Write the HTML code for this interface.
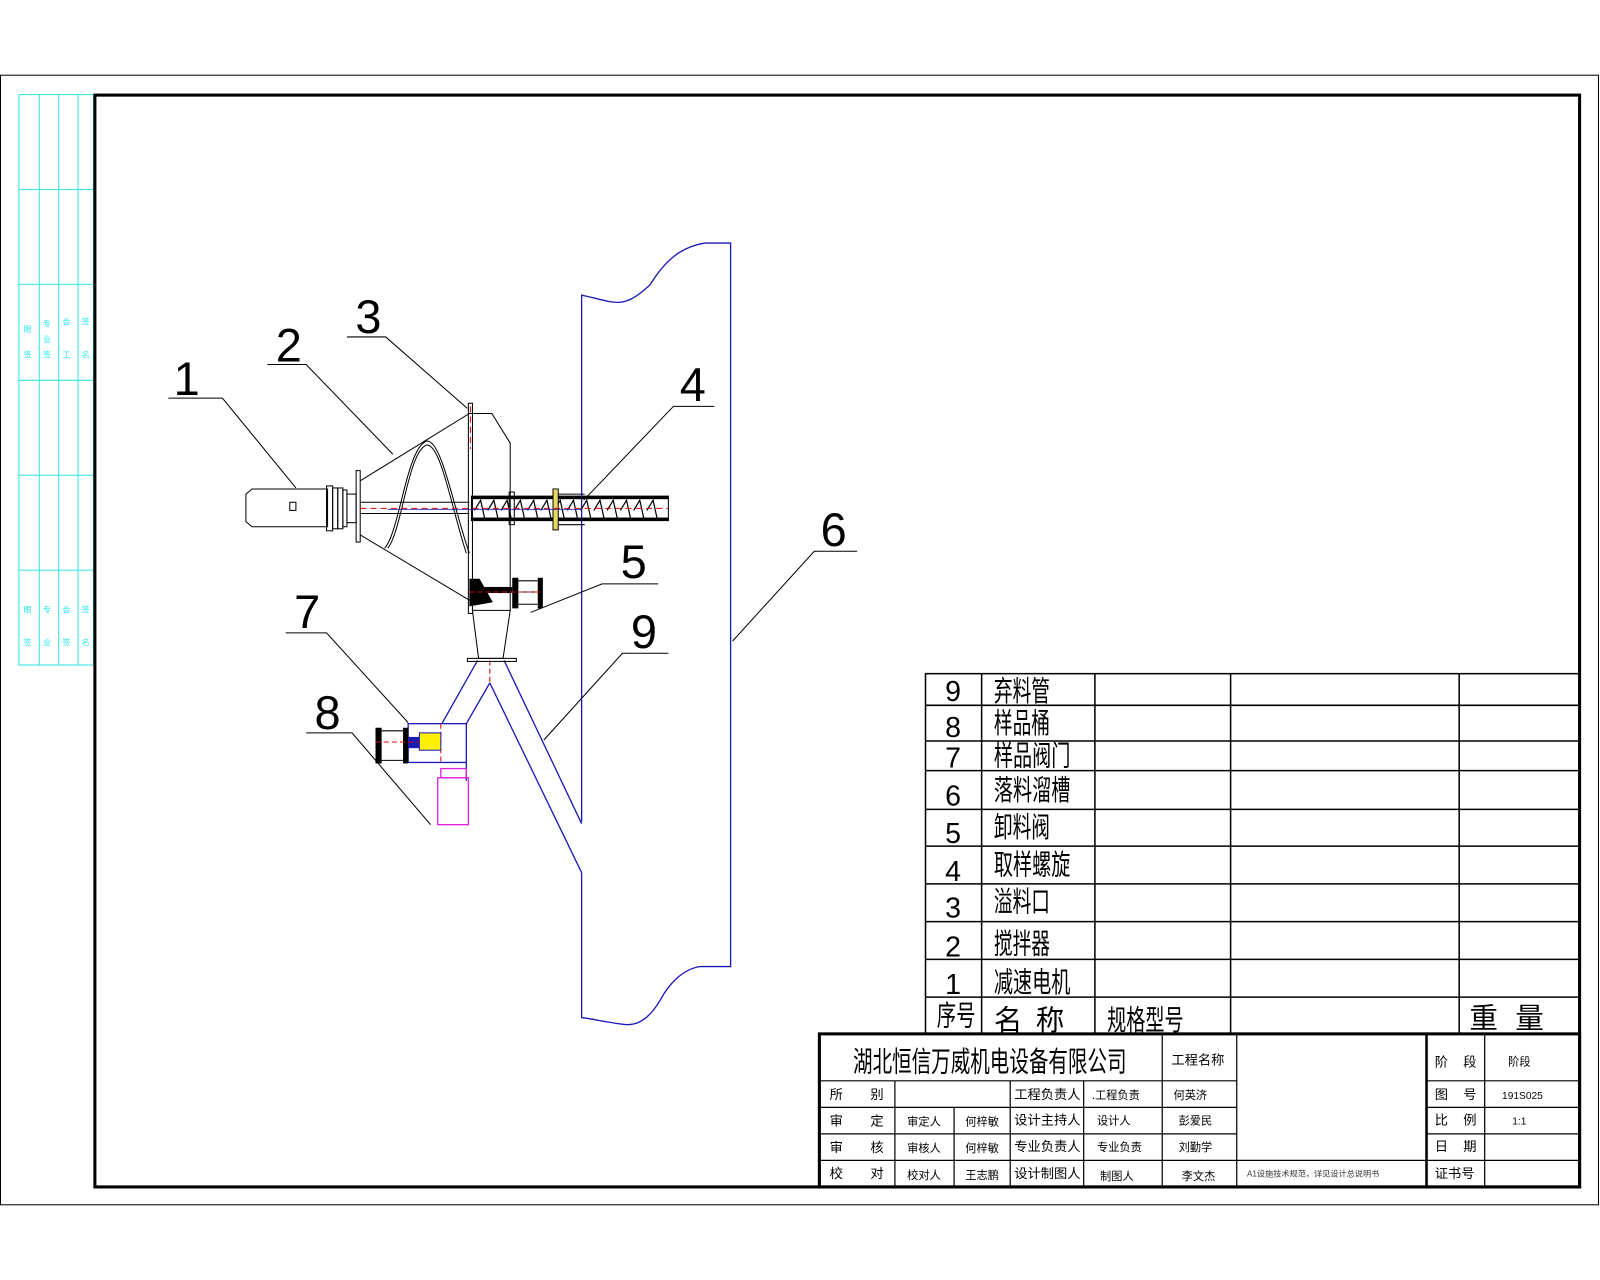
<!DOCTYPE html>
<html><head><meta charset="utf-8"><style>
html,body{margin:0;padding:0;background:#fff;}
svg{display:block;}
text{font-family:"Liberation Sans","Noto Sans CJK SC",sans-serif;}
.cj{font-family:"Liberation Serif","Noto Serif CJK SC","Noto Sans CJK SC",serif;}
</style></head><body>
<svg width="1600" height="1280" viewBox="0 0 1568 1254" xmlns="http://www.w3.org/2000/svg">
<rect x="0" y="0" width="1568" height="1254" fill="#fff"/>
<rect x="0.5" y="73.5" width="1566" height="1107" fill="none" stroke="#000" stroke-width="1"/>
<g stroke="#2ee6e6" stroke-width="1" fill="none">
<rect x="18.5" y="92.5" width="73" height="559"/>
<line x1="38.5" y1="92" x2="38.5" y2="652"/><line x1="57.5" y1="92" x2="57.5" y2="652"/><line x1="76.5" y1="92" x2="76.5" y2="652"/>
<line x1="18" y1="185.5" x2="94" y2="185.5"/><line x1="18" y1="278.5" x2="94" y2="278.5"/><line x1="18" y1="372.5" x2="94" y2="372.5"/>
<line x1="18" y1="465.5" x2="94" y2="465.5"/><line x1="18" y1="558.5" x2="94" y2="558.5"/>
</g>
<g fill="#2ee6e6" font-size="8">
<text x="23" y="325">眼</text><text x="23" y="350">签</text><text x="42" y="320">专</text><text x="42" y="335">业</text><text x="42" y="350">签</text>
<text x="61" y="318">会</text><text x="61" y="350">工</text><text x="80" y="318">签</text><text x="80" y="350">名</text>
<text x="23" y="600">眼</text><text x="23" y="632">签</text><text x="42" y="600">专</text><text x="42" y="632">业</text>
<text x="61" y="600">会</text><text x="61" y="632">签</text><text x="80" y="600">签</text><text x="80" y="632">名</text>
</g>
<rect x="93" y="93" width="1455" height="1070" fill="none" stroke="#000" stroke-width="3"/>

<g stroke="#1a1ab8" stroke-width="1.3" fill="none">
<path d="M570,805 L570,289 C585,292 598,297 608,296 C620,295 630,285 637,279 C650,258 665,242 691,238 L716,238 L716,947 L686,947 C668,950 655,965 647,980 C638,995 628,1004 615,1004 C600,1003 585,999 570,997 L570,855"/>
<path d="M468,647 L433,709"/>
<path d="M480,669 L457,709"/>
<path d="M480,669 L570,855"/>
<path d="M494,647 L570,807"/>
<rect x="400" y="709" width="57" height="38"/>
<line x1="457" y1="747" x2="457" y2="765"/>
</g>
<line x1="480" y1="647" x2="480" y2="669" stroke="#d00" stroke-dasharray="5,3"/>
<line x1="432" y1="709" x2="432" y2="747" stroke="#d00" stroke-dasharray="5,3"/>
<rect x="411" y="718" width="21" height="17" fill="#ffef00" stroke="#1a1ab8"/>
<rect x="368" y="713" width="6" height="35" fill="#000"/>
<rect x="395" y="713" width="5" height="35" fill="#000"/>
<rect x="400" y="722" width="11" height="11" fill="#1a1ab8"/>
<g stroke="#000" stroke-width="1"><line x1="374" y1="716" x2="395" y2="716"/><line x1="374" y1="745" x2="395" y2="745"/></g>
<line x1="368" y1="727" x2="410" y2="727" stroke="#d00" stroke-dasharray="5,3"/>
<g stroke="#e020e0" stroke-width="1.3" fill="none">
<rect x="432" y="753" width="25" height="9"/>
<rect x="429" y="762" width="30" height="46"/>
</g>

<g stroke="#000" stroke-width="1" fill="none">
<path d="M247,479 L321,479 L321,516 L247,516 L241,511 L241,484 Z"/>
<rect x="284" y="492" width="6" height="8"/>
<rect x="320" y="476" width="6" height="44"/><rect x="326" y="478" width="5" height="40"/><rect x="331" y="478" width="5" height="40"/><rect x="336" y="480" width="4" height="36"/>
<rect x="340" y="484" width="9" height="28"/>
<rect x="349" y="461" width="4" height="70"/>
<path d="M353,471 L460,405 L482,405 L500,434 L500,598"/>
<path d="M353,524 L460,588"/>
<path d="M377,537 C392,520 398,440 418,432 C433,430 445,500 460,542"/>
<path d="M380,537 C394,520 400,442 418,436 C432,434 443,500 457,542"/>
<rect x="459" y="395" width="4" height="206"/>
<line x1="353" y1="492" x2="460" y2="492"/><line x1="353" y1="503" x2="460" y2="503"/>
<rect x="462" y="486" width="193" height="24"/>
<rect x="499" y="482" width="5" height="32"/>
<rect x="542" y="479" width="5" height="40"/>
<line x1="547" y1="484" x2="573" y2="484"/><line x1="547" y1="514" x2="573" y2="514"/>
<path d="M463,598 L500,598 L493,645 L469,645 Z"/>
<rect x="458" y="645" width="48" height="3"/>
</g>
<path d="M465,500 l6,-10 l4,18 M478,500 l6,-10 l4,18 M491,500 l6,-10 l4,18 M504,500 l6,-10 l4,18 M517,500 l6,-10 l4,18 M530,500 l6,-10 l4,18 M543,500 l6,-10 l4,18 M556,500 l6,-10 l4,18 M569,500 l6,-10 l4,18 M582,500 l6,-10 l4,18 M595,500 l6,-10 l4,18 M608,500 l6,-10 l4,18 M621,500 l6,-10 l4,18 M634,500 l6,-10 l4,18" stroke="#000" stroke-width="1.2" fill="none"/>
<rect x="462" y="486" width="193" height="3" fill="#000"/>
<rect x="462" y="507" width="193" height="3" fill="#000"/>
<rect x="542" y="479" width="5" height="40" fill="#e8d860" stroke="#000" stroke-width="0.8"/>
<line x1="353" y1="498" x2="655" y2="498" stroke="#d00" stroke-dasharray="6,4"/>
<line x1="380" y1="499" x2="570" y2="499" stroke="#1a1ab8" stroke-width="0.8"/>
<line x1="461" y1="398" x2="461" y2="440" stroke="#d00" stroke-dasharray="6,4"/>
<path d="M460,567 L470,567 L483,590 L460,594 Z" fill="#000"/>
<rect x="470" y="575" width="32" height="6" fill="#000"/>
<rect x="502" y="566" width="6" height="30" fill="#000"/>
<rect x="527" y="566" width="5" height="30" fill="#000"/>
<g stroke="#000"><line x1="508" y1="569" x2="527" y2="569"/><line x1="508" y1="580" x2="527" y2="580"/><line x1="508" y1="592" x2="527" y2="592"/></g>
<line x1="460" y1="580" x2="530" y2="580" stroke="#d00" stroke-dasharray="5,3"/>

<g stroke="#000" stroke-width="1" fill="none">
<path d="M165,390 L218,390 L290,478"/>
<path d="M262,357 L300,357 L385,445"/>
<path d="M340,330 L378,330 L458,400"/>
<path d="M700,398 L660,398 L572,490"/>
<path d="M645,572 L590,572 L520,600"/>
<path d="M840,540 L798,540 L718,628"/>
<path d="M280,620 L320,620 L400,708"/>
<path d="M300,718 L345,718 L422,808"/>
<path d="M655,640 L610,640 L533,725"/>
</g>
<g font-size="46" fill="#000" text-anchor="middle">
<text x="183" y="387">1</text><text x="283" y="354">2</text><text x="361" y="326">3</text>
<text x="679" y="393">4</text><text x="621" y="566">5</text><text x="817" y="535">6</text>
<text x="301" y="615">7</text><text x="321" y="714">8</text><text x="631" y="635">9</text>
</g>

<g stroke="#000" stroke-width="1.5" fill="none">
<rect x="907" y="660" width="641" height="353"/>
<line x1="962" y1="660" x2="962" y2="1013"/><line x1="1073" y1="660" x2="1073" y2="1013"/>
<line x1="1206" y1="660" x2="1206" y2="1013"/><line x1="1430" y1="660" x2="1430" y2="1013"/>
<line x1="907" y1="691" x2="1548" y2="691"/><line x1="907" y1="726" x2="1548" y2="726"/>
<line x1="907" y1="755" x2="1548" y2="755"/><line x1="907" y1="793" x2="1548" y2="793"/>
<line x1="907" y1="829" x2="1548" y2="829"/><line x1="907" y1="866" x2="1548" y2="866"/>
<line x1="907" y1="903" x2="1548" y2="903"/><line x1="907" y1="940" x2="1548" y2="940"/>
<line x1="907" y1="977" x2="1548" y2="977"/>
</g>
<g class="cj" font-size="28" fill="#000">
<text x="934" y="687" text-anchor="middle">9</text><text x="974" y="687" textLength="55" lengthAdjust="spacingAndGlyphs">弃料管</text>
<text x="934" y="722" text-anchor="middle">8</text><text x="974" y="718" textLength="55" lengthAdjust="spacingAndGlyphs">样品桶</text>
<text x="934" y="752" text-anchor="middle">7</text><text x="974" y="750" textLength="75" lengthAdjust="spacingAndGlyphs">样品阀门</text>
<text x="934" y="789" text-anchor="middle">6</text><text x="974" y="784" textLength="75" lengthAdjust="spacingAndGlyphs">落料溜槽</text>
<text x="934" y="826" text-anchor="middle">5</text><text x="974" y="820" textLength="55" lengthAdjust="spacingAndGlyphs">卸料阀</text>
<text x="934" y="863" text-anchor="middle">4</text><text x="974" y="857" textLength="75" lengthAdjust="spacingAndGlyphs">取样螺旋</text>
<text x="934" y="899" text-anchor="middle">3</text><text x="974" y="893" textLength="55" lengthAdjust="spacingAndGlyphs">溢料口</text>
<text x="934" y="937" text-anchor="middle">2</text><text x="974" y="934" textLength="55" lengthAdjust="spacingAndGlyphs">搅拌器</text>
<text x="934" y="974" text-anchor="middle">1</text><text x="974" y="972" textLength="75" lengthAdjust="spacingAndGlyphs">减速电机</text>
<text x="918" y="1005" textLength="38" lengthAdjust="spacingAndGlyphs">序号</text>
<text x="974" y="1009">名</text><text x="1015" y="1009">称</text>
<text x="1085" y="1009" textLength="75" lengthAdjust="spacingAndGlyphs">规格型号</text>
<text x="1440" y="1007">重</text><text x="1485" y="1007">量</text>
</g>

<g stroke="#000" stroke-width="1.2" fill="none">
<line x1="803" y1="1059" x2="1212" y2="1059"/><line x1="1398" y1="1059" x2="1548" y2="1059"/>
<line x1="803" y1="1085" x2="1212" y2="1085"/><line x1="1398" y1="1085" x2="1548" y2="1085"/>
<line x1="803" y1="1111" x2="1212" y2="1111"/><line x1="1398" y1="1111" x2="1548" y2="1111"/>
<line x1="803" y1="1137" x2="1548" y2="1137"/>
<line x1="877" y1="1059" x2="877" y2="1163"/><line x1="935" y1="1085" x2="935" y2="1163"/>
<line x1="990" y1="1059" x2="990" y2="1163"/><line x1="1062" y1="1059" x2="1062" y2="1163"/>
<line x1="1139" y1="1013" x2="1139" y2="1163"/><line x1="1212" y1="1013" x2="1212" y2="1163"/>
<line x1="1455" y1="1013" x2="1455" y2="1163"/>
</g>
<line x1="1398" y1="1013" x2="1398" y2="1163" stroke="#000" stroke-width="2.5"/>
<rect x="803" y="1013" width="745" height="150" fill="none" stroke="#000" stroke-width="3"/>
<g class="cj" fill="#000">
<text x="836" y="1050" font-size="28" textLength="268" lengthAdjust="spacingAndGlyphs">湖北恒信万威机电设备有限公司</text>
</g>
<g font-size="13" fill="#000">
<text x="1148" y="1043">工程名称</text>
<text x="1406" y="1045">阶</text><text x="1434" y="1045">段</text><text x="1478" y="1044" font-size="11">阶段</text>
<text x="813" y="1077">所</text><text x="853" y="1077">别</text>
<text x="994" y="1077">工程负责人</text><text x="1070" y="1077" font-size="11">.工程负责</text><text x="1150" y="1077" font-size="11">何英济</text>
<text x="1406" y="1077">图</text><text x="1434" y="1077">号</text><text x="1472" y="1077" font-size="10">191S025</text>
<text x="813" y="1103">审</text><text x="853" y="1103">定</text><text x="889" y="1103" font-size="11">审定人</text><text x="946" y="1103" font-size="11">何梓敏</text>
<text x="994" y="1102">设计主持人</text><text x="1075" y="1102" font-size="11">设计人</text><text x="1155" y="1102" font-size="11">彭爱民</text>
<text x="1406" y="1102">比</text><text x="1434" y="1102">例</text><text x="1482" y="1102" font-size="10">1:1</text>
<text x="813" y="1129">审</text><text x="853" y="1129">核</text><text x="889" y="1129" font-size="11">审核人</text><text x="946" y="1129" font-size="11">何梓敏</text>
<text x="994" y="1128">专业负责人</text><text x="1075" y="1128" font-size="11">专业负责</text><text x="1155" y="1128" font-size="11">刘勤学</text>
<text x="1406" y="1128">日</text><text x="1434" y="1128">期</text>
<text x="813" y="1154">校</text><text x="853" y="1154">对</text><text x="889" y="1155" font-size="11">校对人</text><text x="946" y="1155" font-size="11">王志鹏</text>
<text x="994" y="1154">设计制图人</text><text x="1078" y="1156" font-size="11">制图人</text><text x="1158" y="1156" font-size="11">李文杰</text>
<text x="1222" y="1153" font-size="8" fill="#333">A1设施技术规范，详见设计总说明书</text>
<text x="1406" y="1154">证书号</text>
</g>
</svg>
</body></html>
